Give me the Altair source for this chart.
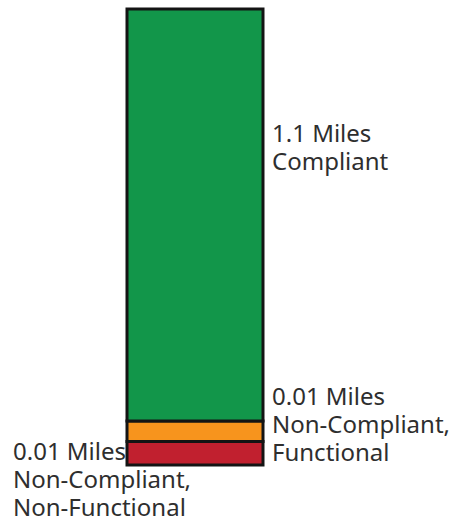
import altair as alt
import pandas as pd

# Sidewalk length by condition, bottom segment first
statuses = ["Non-Compliant, Non-Functional", "Non-Compliant, Functional", "Compliant"]
miles = [0.01, 0.01, 1.1]
mile_labels = ["0.01 Miles", "0.01 Miles", "1.1 Miles"]
colors = ["#c1202f", "#f7941d", "#12964a"]

df = pd.DataFrame({
    "group": ["Sidewalks"] * len(statuses),
    "status": statuses,
    "miles": miles,
    "rank": list(range(len(statuses))),
})
df["top"] = df["miles"].cumsum()
df["label"] = [m + "\n" + s.replace(", ", ",\n") for m, s in zip(mile_labels, statuses)]

total = float(df["top"].iloc[-1])

x_scale = alt.Scale(domain=["Sidewalks"], range=[127, 263], paddingInner=0, paddingOuter=0)
y_scale = alt.Scale(type="symlog", constant=0.06, domain=[0, total], range=[465, 9], nice=False)

bar = alt.Chart(df).mark_bar(stroke="#141414", strokeWidth=3).encode(
    x=alt.X("group:N", scale=x_scale, axis=None),
    y=alt.Y("miles:Q", stack="zero", scale=y_scale, axis=None),
    color=alt.Color("status:N", scale=alt.Scale(domain=statuses, range=colors), legend=None),
    order=alt.Order("rank:Q"),
)

text_style = dict(font="Noto Sans", fontSize=24, color="#2e2e2e", lineHeight=28,
                  baseline="top", align="left", lineBreak="\n")


def label_layer(status, dx, dy):
    sub = df[df["status"] == status]
    return alt.Chart(sub).mark_text(dx=dx, dy=dy, **text_style).encode(
        x=alt.X("group:N", scale=x_scale, axis=None),
        y=alt.Y("top:Q", scale=y_scale, axis=None),
        text="label:N",
    )


compliant_lbl = label_layer("Compliant", 77, 114)
functional_lbl = label_layer("Non-Compliant, Functional", 77, -35)
nonfunctional_lbl = label_layer("Non-Compliant, Non-Functional", -182, 0)

chart = alt.layer(bar, compliant_lbl, functional_lbl, nonfunctional_lbl).properties(
    width=450, height=531, padding=0, autosize=alt.AutoSizeParams(type="none"),
    background="white",
).configure_view(stroke=None)

chart.save("out.html", embed_options={"renderer": "svg", "actions": False})
